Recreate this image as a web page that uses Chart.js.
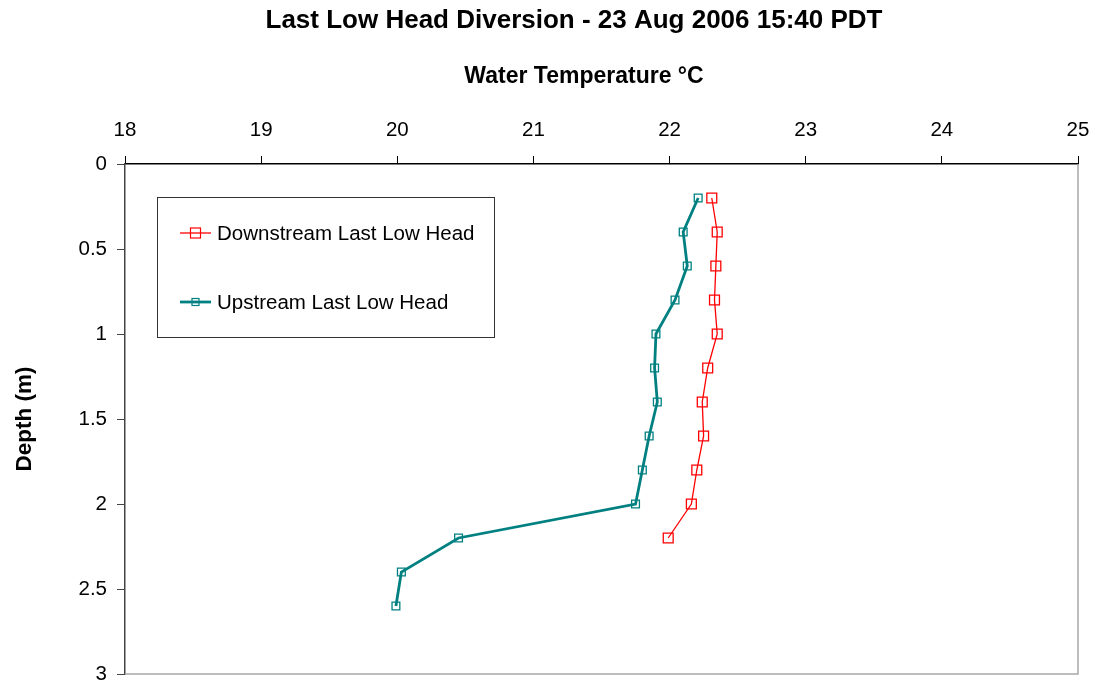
<!DOCTYPE html>
<html>
<head>
<meta charset="utf-8">
<script src="https://cdn.jsdelivr.net/npm/chart.js@4.4.1/dist/chart.umd.min.js"></script>
<style>
  html, body { margin: 0; padding: 0; background: #fff; }
  #wrap { width: 1096px; height: 688px; }
</style>
</head>
<body>
<div id="wrap"><canvas id="chartPerfil" width="1096" height="688"></canvas></div>
<script>
const depths = [0.2, 0.4, 0.6, 0.8, 1.0, 1.2, 1.4, 1.6, 1.8, 2.0, 2.2, 2.4, 2.6];
const downstreamTemp = [22.31, 22.35, 22.34, 22.33, 22.35, 22.28, 22.24, 22.25, 22.20, 22.16, 21.99];
const upstreamTemp = [22.21, 22.10, 22.13, 22.04, 21.90, 21.89, 21.91, 21.85, 21.80, 21.75, 20.45, 20.03, 19.99];
const seriesNames = ['Downstream Last Low Head', 'Upstream Last Low Head'];
const tempTicks = [18, 19, 20, 21, 22, 23, 24, 25];
const depthTicks = [0, 0.5, 1, 1.5, 2, 2.5, 3];
const tituloGrafico = 'Last Low Head Diversion - 23 Aug 2006 15:40 PDT';
const tituloX = 'Water Temperature °C';
const tituloY = 'Depth (m)';

const fonte = 'Arial, "Liberation Sans", sans-serif';

function pares(temps) {
  return temps.map((t, i) => ({x: t, y: depths[i]}));
}

// títulos, moldura cinza (direita/baixo) e legenda em caixa
const molduraPlugin = {
  id: 'moldura',
  afterDraw(chart) {
    const {ctx, chartArea: a} = chart;
    ctx.save();
    ctx.fillStyle = '#000';
    ctx.textAlign = 'center';
    ctx.textBaseline = 'middle';
    ctx.font = 'bold 26px ' + fonte;
    ctx.fillText(tituloGrafico, 574, 21);
    ctx.font = 'bold 23px ' + fonte;
    ctx.fillText(tituloX, 584, 77);

    ctx.strokeStyle = '#a8a8a8';
    ctx.lineWidth = 1.5;
    ctx.beginPath();
    ctx.moveTo(a.right, a.top);
    ctx.lineTo(a.right, a.bottom);
    ctx.lineTo(a.left, a.bottom);
    ctx.stroke();

    // legenda
    ctx.strokeStyle = '#333';
    ctx.lineWidth = 1;
    ctx.strokeRect(157.5, 197.5, 337, 140);
    ctx.font = '20.5px ' + fonte;
    ctx.textAlign = 'left';
    const ys = [233, 302];
    chart.data.datasets.forEach((ds, i) => {
      const y = ys[i];
      ctx.strokeStyle = ds.borderColor;
      ctx.lineWidth = ds.borderWidth;
      ctx.beginPath();
      ctx.moveTo(180, y);
      ctx.lineTo(211, y);
      ctx.stroke();
      const s = i === 0 ? 10 : 7;
      ctx.lineWidth = 1.2;
      ctx.strokeStyle = ds.pointBorderColor;
      ctx.strokeRect(195.5 - s / 2, y - s / 2, s, s);
      ctx.fillText(ds.label, 217, y + 1);
    });
    ctx.restore();
  }
};

new Chart(document.getElementById('chartPerfil'), {
  type: 'scatter',
  data: {
    datasets: [
      {
        label: seriesNames[0],
        data: pares(downstreamTemp),
        showLine: true,
        borderColor: '#ff0000',
        borderWidth: 1.3,
        pointStyle: 'rect',
        pointRadius: 7,
        pointBorderColor: '#ff0000',
        pointBorderWidth: 1.3,
        pointBackgroundColor: 'transparent',
      },
      {
        label: seriesNames[1],
        data: pares(upstreamTemp),
        showLine: true,
        borderColor: '#008080',
        borderWidth: 2.8,
        pointStyle: 'rect',
        pointRadius: 5.5,
        pointBorderColor: '#008080',
        pointBorderWidth: 1.3,
        pointBackgroundColor: 'transparent',
      }
    ]
  },
  options: {
    responsive: false,
    animation: false,
    layout: {padding: {left: 0, right: 18, top: 0, bottom: 14}},
    plugins: {
      legend: {display: false},
      tooltip: {enabled: false},
      title: {display: false}
    },
    scales: {
      x: {
        type: 'linear',
        position: 'top',
        min: 18, max: 25,
        afterBuildTicks: s => { s.ticks = tempTicks.map(v => ({value: v})); },
        afterFit: s => { s.height = 164; s.paddingLeft = 0; s.paddingRight = 0; },
        ticks: {color: '#000', font: {family: fonte, size: 20.5}, padding: 13, maxRotation: 0,
                callback: v => String(v)},
        grid: {drawOnChartArea: false, drawTicks: true, tickLength: 8, color: '#000'},
        border: {display: true, color: '#000', width: 1.5}
      },
      y: {
        type: 'linear',
        reverse: true,
        min: 0, max: 3,
        afterBuildTicks: s => { s.ticks = depthTicks.map(v => ({value: v})); },
        afterFit: s => { s.width = 125; s.paddingTop = 0; s.paddingBottom = 0; },
        ticks: {color: '#000', font: {family: fonte, size: 20.5}, padding: 10,
                callback: v => String(v)},
        grid: {drawOnChartArea: false, drawTicks: true, tickLength: 8, color: '#444'},
        border: {display: true, color: '#444', width: 1.5},
        title: {
          display: true,
          text: tituloY,
          color: '#000',
          font: {family: fonte, size: 22.5, weight: 'bold'},
          padding: {top: 11, bottom: 0}
        }
      }
    }
  },
  plugins: [molduraPlugin]
});
</script>
</body>
</html>
